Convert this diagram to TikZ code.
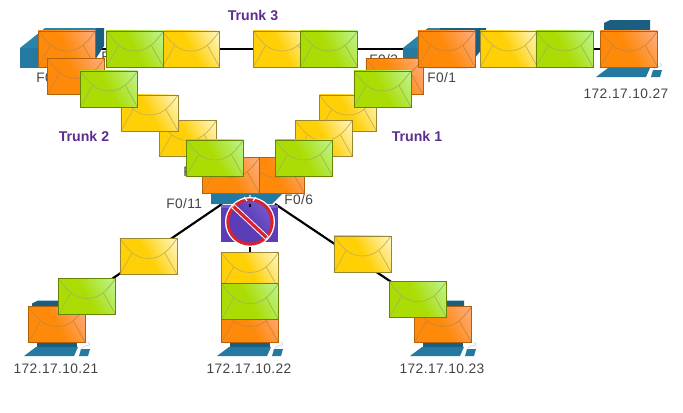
\documentclass[tikz,border=0pt]{standalone}
\usepackage{fontspec}
\setmainfont{Liberation Sans}
\newfontfamily\lblfont[LetterSpace=3]{Liberation Sans}
\definecolor{orA}{HTML}{FF8A0A}\definecolor{orB}{HTML}{FFAE88}
\definecolor{grA}{HTML}{ABDD05}\definecolor{grB}{HTML}{BDF59A}
\definecolor{yeA}{HTML}{FFD005}\definecolor{yeB}{HTML}{FFF8D0}
\definecolor{swblue}{HTML}{23799F}\definecolor{swdark}{HTML}{1A5E80}
\definecolor{swtop}{HTML}{2A84A8}
\definecolor{trunkc}{HTML}{5C2D91}\definecolor{labelc}{HTML}{444444}
\definecolor{purA}{HTML}{5B3DB8}\definecolor{purB}{HTML}{7A5CD0}\definecolor{signred}{HTML}{D8222E}
\pgfdeclareverticalshading{orshade}{100bp}{color(0bp)=(orA);color(50bp)=(orA);color(85bp)=(orB);color(100bp)=(orB)}
\pgfdeclareverticalshading{grshade}{100bp}{color(0bp)=(grA);color(50bp)=(grA);color(85bp)=(grB);color(100bp)=(grB)}
\pgfdeclareverticalshading{yeshade}{100bp}{color(0bp)=(yeA);color(50bp)=(yeA);color(85bp)=(yeB);color(100bp)=(yeB)}
\pgfdeclareverticalshading{purshade}{100bp}{color(0bp)=(purA);color(50bp)=(purA);color(80bp)=(purB);color(100bp)=(purB)}
\tikzset{
  x=0.75pt,y=-0.75pt,
  envelope/.style n args={3}{rectangle,minimum width=42.75pt,minimum height=27pt,inner sep=0pt,
    anchor=north west,draw=#2,line width=.7pt,shading=#1,shading angle=-60,
    path picture={
      \draw[#3,line width=.55pt]
        (path picture bounding box.north west) .. controls +(7pt,-10pt) and +(-9pt,0pt) .. ([yshift=-1.5pt]path picture bounding box.center)
        .. controls +(9pt,0pt) and +(-7pt,-10pt) .. (path picture bounding box.north east);
      \draw[#3,line width=.55pt] (path picture bounding box.south west) -- ++(9pt,16pt);
      \draw[#3,line width=.55pt] (path picture bounding box.south east) -- ++(-9pt,16pt);
    }},
  orenv/.style={envelope={orshade}{orA!70!black}{orA!75!black!80}},
  grenv/.style={envelope={grshade}{grA!60!black}{grA!70!black!70}},
  yeenv/.style={envelope={yeshade}{yeA!50!black!80}{yeA!70!black!70}},
  link/.style={draw=black,line width=1.6pt},
  portl/.style={font=\lblfont\fontsize{10.3}{12}\selectfont,text=labelc,inner sep=0pt},
  ipl/.style={font=\lblfont\fontsize{10.3}{12}\selectfont,text=labelc,inner sep=0pt},
  trunkl/.style={font=\bfseries\fontsize{10.6}{12}\selectfont,text=trunkc,inner sep=0pt},
}
\begin{document}
\begin{tikzpicture}
\useasboundingbox[fill=white] (0,0) rectangle (683,412);
% device anchors
\coordinate (swL) at (60,49);
\coordinate (swR) at (445,49);
\coordinate (swC) at (250,201);
\coordinate (swCL) at (222,204);
\coordinate (swCR) at (275,204);
\coordinate (pc27) at (628,49);
\coordinate (pc21) at (56,317);
\coordinate (pc22) at (250,324);
\coordinate (pc23) at (442,316);
\coordinate (swCtop) at (250,204);
\coordinate (swCtip) at (250,206.5);
% connectors
\draw[link] (swL) -- (swR);
\draw[link] (swR) -- (pc27);
\draw[link] (swL) -- (swC);
\draw[link] (swR) -- (swC);
\draw[link] (swCL) -- (pc21);
\draw[link] (swC) -- (pc22);
\draw[link] (swCR) -- (pc23);
% left switch
\fill[swdark] (95,28) -- (104,28) -- (104,46) -- (95,60) -- cycle;
\fill[swtop] (20,48) -- (45,28) -- (97,28) -- (80,48) -- cycle;
\fill[swblue] (20,48) rectangle (50,68);
% right switch
\fill[swdark] (428,28) -- (486,28) -- (486,44) -- (467,68) -- (428,68) -- cycle;
\fill[swtop] (403,48) -- (428,28) -- (440,28) -- (440,48) -- cycle;
\fill[swblue] (403,48) rectangle (440,68);
% centre switch
\fill[swblue] (211,193) -- (283,193) -- (272,204) -- (211,204) -- cycle;
% centre hub
\fill[purA] (221,205) rectangle (278,242);
\fill[purB] (221,205) rectangle (278,208);
% PCs
\foreach \ex/\mt/\mb/\bb in {600/20/30/63,28/300.5/306/342,221/300.5/306/342,414/300.5/306/342}{
  \fill[swdark] (\ex+4,\mt+3) -- (\ex+10,\mt) -- (\ex+50,\mt) -- (\ex+50,\mb) -- (\ex+4,\mb) -- cycle;
  \fill[swdark] (\ex+9,\bb) rectangle (\ex+49,\bb+6);
  \fill[swblue] (\ex+8,\bb+5) -- (\ex+50,\bb+5) -- (\ex+46,\bb+14) -- (\ex-4,\bb+14) -- cycle;
  \fill[swblue] (\ex+53,\bb+7) -- (\ex+62,\bb+7) -- (\ex+60,\bb+14) -- (\ex+51,\bb+14) -- cycle;
  \draw[swblue!25,line width=.6pt] (\ex+54,\bb+6) .. controls (\ex+56,\bb+2) and (\ex+66,\bb+5) .. (\ex+60,\bb+0);
}
% labels
\node[portl,anchor=west] (pL) at (36,78) {F0/2};
\node[portl,anchor=west] (pL1) at (101,57) {F0/1};
\node[portl,anchor=west] (pR) at (369,60) {F0/3};
\node[portl,anchor=west] (pR1) at (427,78) {F0/1};
\node[portl,anchor=west] (pC) at (183,172) {F0/5};
\node[portl,anchor=west] (p11) at (166,204) {F0/11};
\node[portl,anchor=west] (p6) at (284,200) {F0/6};
\node[ipl] (ip27) at (626,94) {172.17.10.27};
\node[ipl] (ip21) at (56,369) {172.17.10.21};
\node[ipl] (ip22) at (249,369) {172.17.10.22};
\node[ipl] (ip23) at (442,369) {172.17.10.23};
\node[trunkl] (t3) at (253,15) {Trunk 3};
\node[trunkl] (t2) at (84,136) {Trunk 2};
\node[trunkl] (t1) at (417,136) {Trunk 1};
% envelopes
\node[orenv] (e1) at (38,30.5) {};
\node[orenv] (e2) at (47,58) {};
\node[yeenv] (e5) at (159,120) {};
\node[yeenv] (e4) at (120.5,94.5) {};
\node[grenv] (e3) at (80,70.5) {};
\node[orenv] (e6) at (247,157) {};
\node[orenv] (e7) at (202,157) {};
\node[grenv] (e8) at (186,139.5) {};
\node[yeenv] (e11) at (319,94.5) {};
\node[yeenv] (e10) at (295,120) {};
\node[grenv] (e9) at (275,139.5) {};
\node[orenv] (e12) at (365.5,58) {};
\node[grenv] (e13) at (353.5,70.5) {};
\node[orenv] (e14) at (417.5,30.5) {};
\node[yeenv] (e15) at (480,30.5) {};
\node[grenv] (e16) at (535.5,30.5) {};
\node[orenv] (e17) at (600,30.5) {};
\node[yeenv] (e19) at (162,30.5) {};
\node[grenv] (e18) at (106,30.5) {};
\node[yeenv] (e20) at (253,30.5) {};
\node[grenv] (e21) at (300,30.5) {};
\node[yeenv] (e22) at (119.5,238) {};
\node[orenv] (e23) at (28,306) {};
\node[grenv] (e24) at (58,278) {};
\node[orenv] (e25) at (221,306) {};
\node[yeenv] (e26) at (221,252) {};
\node[grenv] (e27) at (221,283) {};
\node[yeenv] (e28) at (333.5,235.5) {};
\node[orenv] (e29) at (414,306) {};
\node[grenv] (e30) at (389,281) {};
% prohibited sign
\node[circle,fill=white,minimum size=37.5pt,inner sep=0pt] (signw) at (250,222) {};
\shade[shading=purshade,shading angle=-50] (250,222) circle (16.5pt);
\draw[signred,line width=2.3pt] (250,222) circle (16.6pt);
\draw[white,line width=3.8pt] (233,206) -- (267,238);
\draw[signred,line width=2.4pt] (233.5,206.5) -- (266.5,237.5);
\draw[white,line width=.8pt] (244,197) -- (247,201) (256,197) -- (253,201) (250,195) -- (250,198);
\draw[link] (swCtop) -- (swCtip);
\end{tikzpicture}
\end{document}
